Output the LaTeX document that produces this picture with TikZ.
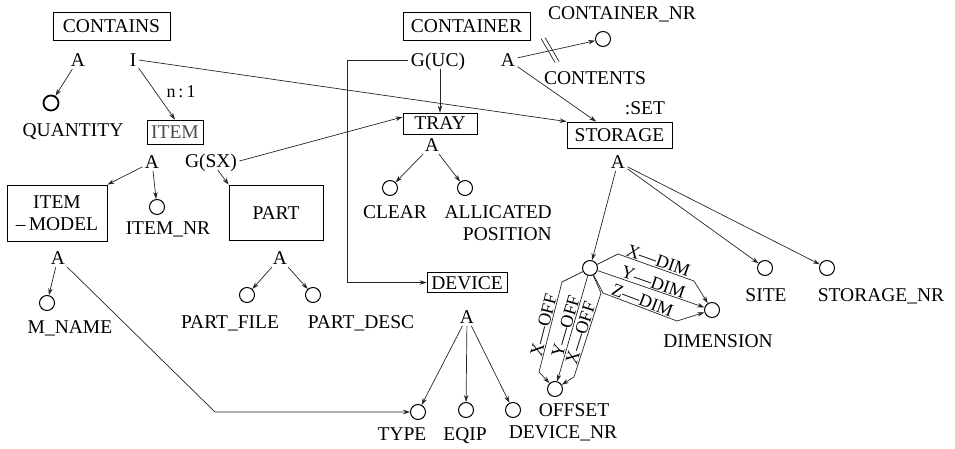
\documentclass[tikz,border=0pt]{standalone}
\usepackage{fontspec}
\setmainfont{Liberation Serif}
\usetikzlibrary{arrows.meta,calc}
\begin{document}
\begin{tikzpicture}[x=1pt,y=-1pt,
  every node/.style={font=\fontsize{19.5}{22}\selectfont, inner sep=0pt},
  txt/.style={text height=13pt, text depth=0pt},
  lab/.style={txt, outer sep=2.5pt},
  box/.style={draw, line width=0.8pt},
  att/.style={circle, draw, line width=1pt, minimum size=15pt, inner sep=0pt},
  arr/.style={-{Stealth[length=7pt,width=4.5pt]}, line width=0.7pt, draw=black!85},
  ln/.style={line width=0.7pt, draw=black!85},
  dl/.style={sloped, above=1pt, font=\fontsize{18}{20}\selectfont, text height=12pt, text depth=0pt}
]
\useasboundingbox (0,0) rectangle (955,449);

% boxes
\node[box, txt, minimum width=117pt, minimum height=28pt] (CONTAINS) at (111.5,26) {CONTAINS};
\node[box, txt, minimum width=127pt, minimum height=28pt] (CONTAINER) at (466.5,26) {CONTAINER};
\node[box, txt, minimum width=56pt, minimum height=24pt, text=black!70] (ITEM) at (175,132) {ITEM};
\node[box, txt, minimum width=74pt, minimum height=21pt] (TRAY) at (440,123.5) {TRAY};
\node[box, txt, minimum width=105pt, minimum height=26pt] (STORAGE) at (619.5,135) {STORAGE};
\node[box, align=center, minimum width=100pt, minimum height=56pt] (IM) at (57,213) {ITEM\\--\,MODEL};
\node[box, txt, minimum width=94pt, minimum height=55pt] (PART) at (276,212.5) {PART};
\node[box, txt, minimum width=80pt, minimum height=20pt] (DEVICE) at (467,282.5) {DEVICE};

% small labels (A, I, G)
\node[lab] (A1) at (78,60) {A};
\node[lab] (I1) at (133,60) {I};
\node[lab] (A2) at (152,162) {A};
\node[lab] (GSX) at (211,161) {G(SX)};
\node[lab] (A3) at (58,258) {A};
\node[lab] (A4) at (280,258) {A};
\node[lab] (GUC) at (438,60) {G(UC)};
\node[lab] (A5) at (508,60) {A};
\node[lab] (A6) at (432,145) {A};
\node[lab] (A7) at (618,162) {A};
\node[lab] (A8) at (467,317) {A};

% attribute circles
\node[att, line width=1.8pt] (cQ) at (51,103) {};
\node[att] (cINR) at (157,207) {};
\node[att] (cMN) at (47,303) {};
\node[att] (cPF) at (247,295) {};
\node[att] (cPD) at (313,295) {};
\node[att] (cCNR) at (603,39) {};
\node[att] (cCL) at (390,188) {};
\node[att] (cAP) at (465,188) {};
\node[att] (cU) at (590,268) {};
\node[att] (cDIM) at (712,310) {};
\node[att] (cSITE) at (765,268) {};
\node[att] (cSNR) at (827,268) {};
\node[att] (cTY) at (418,412) {};
\node[att] (cEQ) at (466,410) {};
\node[att] (cDNR) at (513,410) {};
\node[att] (cOFF) at (555,389) {};

% attribute names
\node[txt] (lQ) at (73,130) {QUANTITY};
\node[txt, font=\fontsize{18}{20}\selectfont] (ln1) at (181,91) {n\,:\,1};
\node[txt] (lINR) at (168,228) {ITEM\_NR};
\node[txt] (lMN) at (70,327) {M\_NAME};
\node[txt] (lPF) at (230,322) {PART\_FILE};
\node[txt] (lPD) at (361,322) {PART\_DESC};
\node[txt] (lCNR) at (622,13) {CONTAINER\_NR};
\node[txt] (lCT) at (595,78) {CONTENTS};
\node[txt] (lSET) at (645,108) {:SET};
\node[txt] (lCL) at (395,212) {CLEAR};
\node[txt, anchor=east] (lAL) at (552,212) {ALLICATED};
\node[txt, anchor=east] (lPO) at (552,234) {POSITION};
\node[txt] (lDIM) at (718,341) {DIMENSION};
\node[txt] (lSITE) at (766,295) {SITE};
\node[txt] (lSNR) at (881,295) {STORAGE\_NR};
\node[txt] (lTY) at (402,434) {TYPE};
\node[txt] (lEQ) at (465,434) {EQIP};
\node[txt] (lDNR) at (563,432) {DEVICE\_NR};
\node[txt] (lOFF) at (574,410) {OFFSET};

% helper coordinates
\coordinate (trayIn) at ($(TRAY.north west)!0.2!(TRAY.south west)$);
\coordinate (stIn) at ($(STORAGE.north west)!0.28!(STORAGE.north east)$);
\coordinate (bendT) at (215,412);
\coordinate (cornerG) at (347,60);
\coordinate (dT1) at (618,254);
\coordinate (dT2) at (694,281);
\coordinate (dB1) at (603,293);
\coordinate (dB2) at (677,321);
\coordinate (oL1) at (562,282);
\coordinate (oL2) at (539,372);
\coordinate (oR1) at (601,293);
\coordinate (oR2) at (574,377);

% connectors
\draw[arr] (A1) -- (cQ);
\draw[arr] (I1) -- (ITEM.north);
\draw[arr] (I1.east) -- (STORAGE.north west);
\draw[arr] (A2) -- (IM.north east);
\draw[arr] (A2) -- (cINR);
\draw[arr] (GSX) -- (PART.north west);
\draw[arr] (GSX.east) -- (trayIn);
\draw[arr] (A3) -- (cMN);
\draw[arr] (A3) -- (bendT) -- (cTY);
\draw[arr] (A4) -- (cPF);
\draw[arr] (A4) -- (cPD);
\draw[arr] (TRAY.north |- GUC.south) -- (TRAY.north);
\draw[arr] (GUC.west) -- (cornerG) |- (DEVICE.west);
\draw[arr] (A5) -- (cCNR) coordinate[pos=0.42] (slashC);
\draw[ln] ($(slashC)+(-9,-12)$) -- ++(14,24);
\draw[ln] ($(slashC)+(-5,-13)$) -- ++(14,24);
\draw[arr] (A5) -- (stIn);
\draw[arr] (A6) -- (cCL);
\draw[arr] (A6) -- (cAP);
\draw[arr] (A7) -- (cU);
\draw[arr] (A7) -- (cSITE);
\draw[arr] (A7) -- (cSNR);
\draw[arr] (A8) -- (cTY);
\draw[arr] (A8) -- (cEQ);
\draw[arr] (A8) -- (cDNR);

\draw[arr] (cU) -- (dT1) -- node[dl]{X---DIM} (dT2) -- (cDIM);
\draw[arr] (cU) -- node[dl]{Y---DIM} (cDIM);
\draw[arr] (cU) -- (dB1) -- node[dl]{Z---DIM} (dB2) -- (cDIM);

\draw[arr] (cU) -- (oL1) -- node[dl]{X---OFF} (oL2) -- (cOFF);
\draw[arr] (cU) -- node[dl]{Y---OFF} (cOFF);
\draw[arr] (cU) -- (oR1) -- node[dl]{X---OFF} (oR2) -- (cOFF);
\end{tikzpicture}
\end{document}
